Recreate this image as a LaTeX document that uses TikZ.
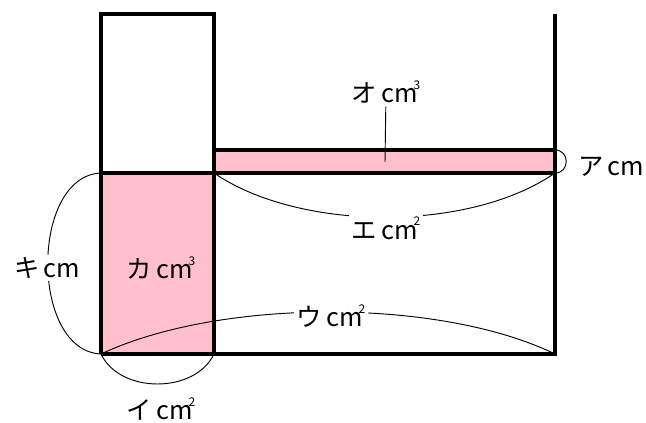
\documentclass[tikz,border=0pt]{standalone}
\usepackage{fontspec}
\setmainfont{Noto Sans CJK JP}
\usepackage{xcolor}
\usetikzlibrary{positioning}
\definecolor{lightpink}{HTML}{FFC0CB}
\newcommand{\sqcm}{cm\kern-0.15em\raisebox{1.0ex}{\fontsize{9}{9}\selectfont 2}}
\newcommand{\cucm}{cm\kern-0.15em\raisebox{1.0ex}{\fontsize{9}{9}\selectfont 3}}

\begin{document}
\begin{tikzpicture}[
    x=0.75pt, y=-0.75pt,
    wall/.style={line width=2.4pt, line join=miter},
    water/.style={fill=lightpink},
    dim/.style={line width=0.7pt},
    lbl/.style={fill=white, inner sep=2pt, font=\fontsize{19}{22}\selectfont}
]
\useasboundingbox (0,0) rectangle (646,423);
% corners
\coordinate (tl) at (101,14);
\coordinate (tr) at (214,14);
\coordinate (ml) at (101,173);
\coordinate (mr) at (214,173);
\coordinate (bl) at (101,354);
\coordinate (br) at (214,354);
\coordinate (st) at (214,150);
\coordinate (et) at (555,150);
\coordinate (eb) at (555,173);
\coordinate (ebot) at (555,354);
\coordinate (etop) at (555,14);
\coordinate (oe) at (385,162);

% pink parts
\fill [water] (ml) rectangle (br);
\fill [water] (st) rectangle (eb);

% labels
\node [lbl] (o) at (386,92) {オ\,\cucm};
\node [lbl] (a) at (611,167) {ア\,cm};
\node [lbl, fill=none] (ka) at (161,268) {カ\,\cucm};
\node [lbl, fill=none] (i) at (161,409) {イ\,\sqcm};

% dimension arcs
\draw [dim] (ml) .. controls (30,176) and (30,351) .. (bl);
\draw [dim] (bl) .. controls (120,394) and (195,394) .. (br);
\draw [dim] (mr) .. controls (300,232) and (470,232) .. (eb);
\draw [dim] (bl) .. controls (220,298) and (440,298) .. (ebot);
\draw [dim] (et) .. controls (570,150) and (570,173) .. (eb);
\draw [dim] (o) -- (oe);

% labels sitting on the arcs
\node [lbl] (ki) at (47,268) {キ\,cm};
\node [lbl] (e) at (386,228) {エ\,\sqcm};
\node [lbl] (u) at (331,316) {ウ\,\sqcm};

% walls
\draw [wall] (bl) -- (tl) -- (tr) -- (br);
\draw [wall] (ml) -- (mr);
\draw [wall] (st) -- (et);
\draw [wall] (etop) -- (ebot) -- (bl);
\draw [wall] (mr) -- (eb);
\end{tikzpicture}
\end{document}
